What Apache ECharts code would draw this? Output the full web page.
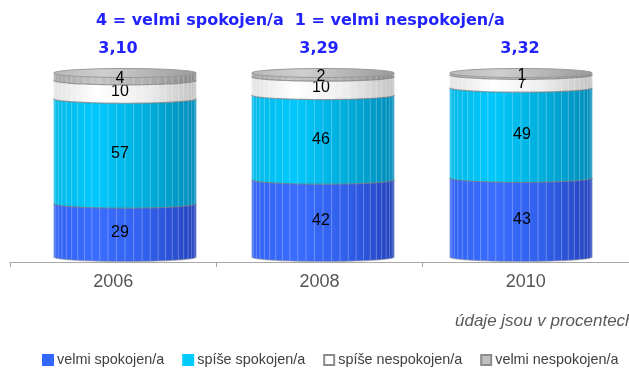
<!DOCTYPE html>
<html>
<head>
<meta charset="utf-8">
<title>Spokojenost</title>
<script src="https://cdn.jsdelivr.net/npm/echarts@6/dist/echarts.min.js"></script>
<style>
  html, body { margin: 0; padding: 0; background: #ffffff; }
  #chart { width: 629px; height: 369px; }
</style>
</head>
<body>
<div id="chart"></div>
<script>
// Survey years and the share of each answer (percent)
const categories = ['2006', '2008', '2010'];
const velmiSpokojen = [29, 42, 43];
const spiseSpokojen = [57, 46, 49];
const spiseNespokojen = [10, 10, 7];
const velmiNespokojen = [4, 2, 1];
// Mean score on the 1-4 scale for each year
const meanScores = ['3,10', '3,29', '3,32'];
const seriesNames = ['velmi spokojen/a', 'spíše spokojen/a', 'spíše nespokojen/a', 'velmi nespokojen/a'];

const seriesValues = [velmiSpokojen, spiseSpokojen, spiseNespokojen, velmiNespokojen];

// Shading for each cylinder segment: side gradient and legend swatch
const palette = [
  { left: '#3162f4', hi: '#3a6cff', mid: '#3160ec', right: '#2442bc', swatch: '#3366ff', border: '#3366ff' },
  { left: '#00bae8', hi: '#00c8fc', mid: '#00aedc', right: '#008cba', swatch: '#00ccff', border: '#00ccff' },
  { left: '#e2e2e2', hi: '#ffffff', mid: '#eeeeee', right: '#c2c2c2', swatch: '#ffffff', border: '#8c8c8c' },
  { left: '#a4a4a4', hi: '#c4c4c4', mid: '#b0b0b0', right: '#888888', swatch: '#c0c0c0', border: '#8c8c8c' }
];

// Cumulative [category, start, end, value] rows for every segment
const stackedRows = seriesValues.map(() => []);
categories.forEach((c, i) => {
  let acc = 0;
  seriesValues.forEach((vals, s) => {
    stackedRows[s].push([i, acc, acc + vals[i], vals[i]]);
    acc += vals[i];
  });
});
const totals = categories.map((c, i) => seriesValues.reduce((a, v) => a + v[i], 0));

const RY = 4.5;          // half-height of the cylinder ellipses
const BAR_RATIO = 0.72;  // cylinder width relative to category width
const STRIPES = 26;

function sideGradient(p) {
  return new echarts.graphic.LinearGradient(0, 0, 1, 0, [
    { offset: 0, color: p.left },
    { offset: 0.3, color: p.hi },
    { offset: 0.65, color: p.mid },
    { offset: 1, color: p.right }
  ]);
}

// points along the front half of an ellipse, left to right
function arcPoints(cx, cy, rx, ry, n) {
  const pts = [];
  for (let k = 0; k <= n; k++) {
    const t = Math.PI * k / n;
    pts.push([cx - rx * Math.cos(t), cy + ry * Math.sin(t)]);
  }
  return pts;
}

function makeCylinderSegment(s) {
  const p = palette[s];
  return function (params, api) {
    const idx = api.value(0);
    const start = api.value(1);
    const end = api.value(2);
    const val = api.value(3);
    const pb = api.coord([idx, start]);
    const pt = api.coord([idx, end]);
    const w = api.size([1, 0])[0] * BAR_RATIO;
    const rx = w / 2;
    const cx = pb[0];
    const yB = pb[1];
    const yT = pt[1];
    const children = [];

    // side face: straight top, rounded front bottom
    children.push({
      type: 'polygon',
      shape: { points: [[cx - rx, yT], [cx + rx, yT], [cx + rx, yB]].concat(arcPoints(cx, yB, rx, RY, 40).reverse()) },
      style: { fill: sideGradient(p) }
    });

    // facet lines on the side
    for (let k = 1; k < STRIPES; k++) {
      const t = Math.PI * k / STRIPES;
      const x = cx - rx * Math.cos(t);
      const dy = RY * Math.sin(t);
      children.push({
        type: 'line',
        shape: { x1: x, y1: yT + dy, x2: x, y2: yB + dy },
        style: { stroke: 'rgba(255,255,255,0.28)', lineWidth: 1 }
      });
    }

    // rim along the lower edge of the segment
    children.push({
      type: 'polyline',
      shape: { points: arcPoints(cx, yB, rx, RY, 40) },
      style: { stroke: start > 0 ? 'rgba(130,130,130,0.75)' : 'rgba(150,150,150,0.55)', lineWidth: 1.2, fill: null }
    });

    // top face of the whole cylinder
    if (Math.abs(end - totals[idx]) < 1e-6) {
      children.push({
        type: 'ellipse',
        shape: { cx: cx, cy: yT, rx: rx, ry: RY },
        style: {
          fill: new echarts.graphic.LinearGradient(0, 0, 1, 0, [
            { offset: 0, color: '#b8b8b8' },
            { offset: 0.35, color: '#cfcfcf' },
            { offset: 1, color: '#9a9a9a' }
          ]),
          stroke: '#9a9a9a', lineWidth: 1
        }
      });
    }

    // value label in the middle of the segment
    children.push({
      type: 'text',
      x: cx + (idx - 1) * 3 - 2,
      y: (yT + yB) / 2 + 2,
      style: {
        text: String(val),
        fill: '#000000',
        font: '16px "Liberation Sans", Arial, sans-serif',
        align: 'center',
        verticalAlign: 'middle'
      }
    });

    return { type: 'group', children: children };
  };
}

const series = seriesNames.map((name, s) => ({
  name: name,
  type: 'custom',
  xAxisIndex: 1,
  yAxisIndex: 1,
  itemStyle: { color: palette[s].swatch, borderColor: palette[s].border, borderWidth: 1 },
  renderItem: makeCylinderSegment(s),
  encode: { x: 0, y: [1, 2] },
  data: stackedRows[s],
  z: 2 + s
}));

// mean scores above each cylinder
series.push({
  name: 'průměr',
  type: 'custom',
  xAxisIndex: 1,
  yAxisIndex: 1,
  renderItem: function (params, api) {
    const idx = api.value(0);
    const pt = api.coord([idx, api.value(1)]);
    return {
      type: 'text',
      x: pt[0] + (idx - 1) * 3 - 4,
      y: pt[1] - 24,
      style: {
        text: meanScores[idx],
        fill: '#2222ff',
        font: 'bold 16px "DejaVu Sans", sans-serif',
        align: 'center',
        verticalAlign: 'middle'
      }
    };
  },
  encode: { x: 0, y: 1 },
  data: categories.map((c, i) => [i, totals[i]]),
  z: 10
});

const chart = echarts.init(document.getElementById('chart'), null, { renderer: 'canvas' });
chart.setOption({
  animation: false,
  backgroundColor: '#ffffff',
  title: [
    {
      text: '4 = velmi spokojen/a  1 = velmi nespokojen/a',
      left: 96,
      top: 13,
      padding: 0,
      textStyle: { color: '#2222ff', fontWeight: 'bold', fontSize: 16, fontFamily: '"DejaVu Sans", sans-serif' }
    },
    {
      text: 'údaje jsou v procentech',
      left: 455,
      top: 313,
      padding: 0,
      textStyle: { color: '#595959', fontWeight: 'normal', fontStyle: 'italic', fontSize: 17, fontFamily: '"Liberation Sans", Arial, sans-serif' }
    }
  ],
  legend: {
    data: seriesNames,
    left: 42,
    top: 353,
    width: 610,
    padding: 0,
    icon: 'rect',
    itemWidth: 10,
    itemHeight: 10,
    itemGap: 18,
    selectedMode: false,
    textStyle: { color: '#404040', fontSize: 14.4, fontFamily: '"Liberation Sans", Arial, sans-serif', padding: [0, 0, 0, -1] }
  },
  grid: [
    { left: 10, width: 622.5, top: 73, bottom: 107 },
    { left: 26, width: 594, top: 73, bottom: 112 }
  ],
  xAxis: [
    {
      type: 'category',
      gridIndex: 0,
      data: categories,
      boundaryGap: true,
      axisLine: { show: true, lineStyle: { color: '#a8a8a8', width: 1 } },
      axisTick: { show: true, length: 5, lineStyle: { color: '#a8a8a8' } },
      axisLabel: { color: '#555555', fontSize: 18, margin: 11, fontFamily: '"Liberation Sans", Arial, sans-serif' }
    },
    {
      type: 'category',
      gridIndex: 1,
      data: categories,
      show: false
    }
  ],
  yAxis: [
    { type: 'value', gridIndex: 0, show: false, min: 0, max: 100 },
    { type: 'value', gridIndex: 1, show: false, min: 0, max: 100, splitLine: { show: false } }
  ],
  series: series
});
</script>
</body>
</html>
